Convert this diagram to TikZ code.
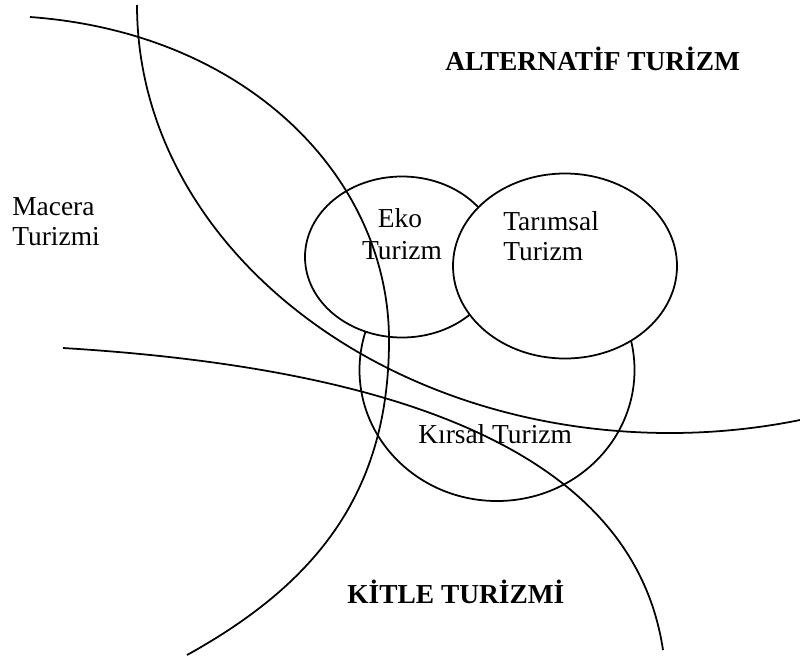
\documentclass[tikz,border=0pt]{standalone}
\usepackage{fontspec}
\setmainfont{Liberation Serif}
\begin{document}
\begin{tikzpicture}[x=0.02cm,y=-0.02cm,
  curve/.style={line width=1pt, draw=black},
  bubble/.style={line width=1pt, draw=black, fill=white},
  lbl/.style={font=\fontsize{15.6}{18}\selectfont, inner sep=0pt},
  head/.style={font=\fontsize{15.6}{18}\selectfont\bfseries, inner sep=0pt}]
\useasboundingbox (0,0) rectangle (800,660);
% circles of the tourism types
\draw[bubble] (497,370) ellipse [x radius=137.5, y radius=131];
\draw[bubble] (402,257) ellipse [x radius=97, y radius=80.5];
\draw[bubble] (565,266) ellipse [x radius=112, y radius=92.5];
% large boundary arcs
\draw[curve] (30,17) .. controls (250,33) and (389,180) .. (389,340)
             .. controls (389,490) and (319,582) .. (187,655);
\draw[curve] (137,5) .. controls (137,241.4) and (375.6,433) .. (670,433)
             .. controls (713.8,433) and (757.6,428.6) .. (800,420);
\draw[curve] (63,348) .. controls (393,368) and (633,450) .. (663,650);
% labels
\node[head, anchor=base west] (alt) at (445,70) {ALTERNATİF TURİZM};
\node[head, anchor=base west] (kitle) at (347,603) {KİTLE TURİZMİ};
\node[lbl, anchor=base west] (mac1) at (12,215) {Macera};
\node[lbl, anchor=base west] (mac2) at (12,245) {Turizmi};
\node[lbl, anchor=base] (eko1) at (400,227) {Eko};
\node[lbl, anchor=base] (eko2) at (402,259) {Turizm};
\node[lbl, anchor=base west] (tar1) at (503,230) {Tarımsal};
\node[lbl, anchor=base west] (tar2) at (503,260) {Turizm};
\node[lbl, anchor=base west] (kir) at (418,443) {Kırsal Turizm};
\end{tikzpicture}
\end{document}
